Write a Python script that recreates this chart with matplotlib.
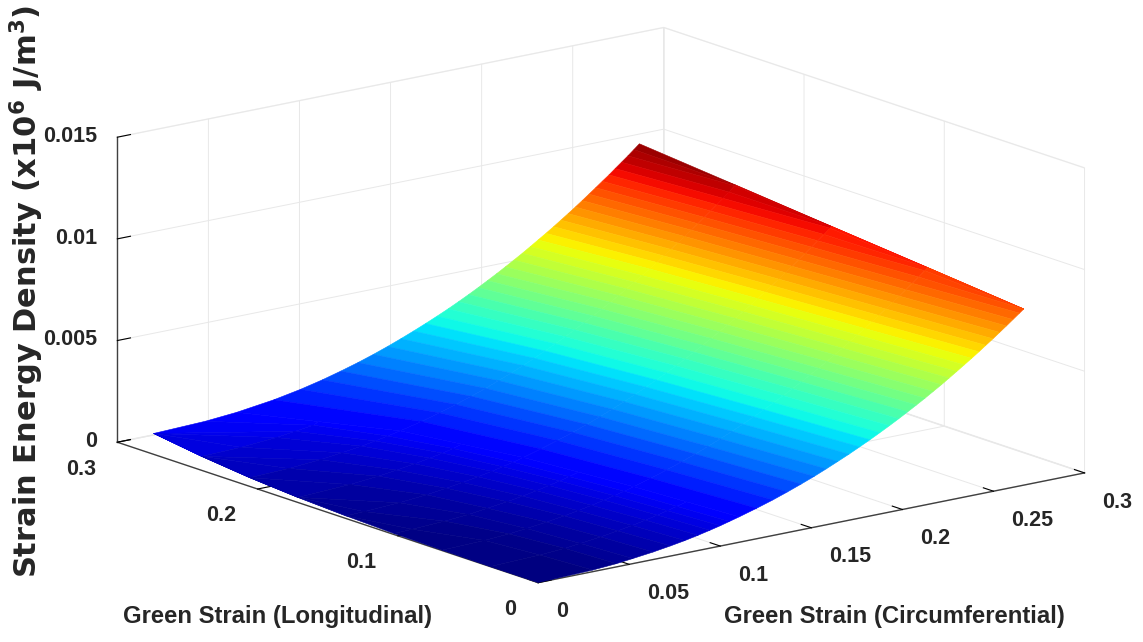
import numpy as np
import matplotlib
matplotlib.use('Agg')
import matplotlib.pyplot as plt

# energy levels drawn as colour bands (x10^6 J/m^3), upper part of the sheet
levels = [.00125, .00150, .00175, .00200, .00225, .00250,
          .00275, .00300, .00325, .00350, .00375, .00400, .00425, .00450, .00475, .00500, .00525,
          .00550, .00575, .00600, .00625, .00650, .00675, .00700, .00725, .00750, .00775, .00800,
          .00825, .00850, .00875, .00900, .00925, .00950, .00975, .01000, .01025, .01048]
long_strain = [0, .0685, .137, .2055, .274]

# circumferential strain where each level sits, one column per long_strain
circ_at_level = [
    [.1104, .1052, .0974, .0825, .0455],
    [.1200, .1146, .1070, .0942, .0660],
    [.1289, .1233, .1161, .1041, .0806],
    [.1369, .1315, .1245, .1131, .0925],
    [.1444, .1391, .1323, .1216, .1027],
    [.1516, .1461, .1394, .1294, .1121],
    [.1582, .1528, .1462, .1366, .1206],
    [.1645, .1592, .1527, .1434, .1284],
    [.1707, .1652, .1588, .1500, .1357],
    [.1765, .1711, .1647, .1561, .1426],
    [.1822, .1767, .1704, .1620, .1492],
    [.1876, .1821, .1759, .1677, .1555],
    [.1929, .1873, .1812, .1731, .1616],
    [.1980, .1924, .1862, .1783, .1673],
    [.2029, .1973, .1911, .1834, .1728],
    [.2077, .2020, .1958, .1884, .1781],
    [.2124, .2067, .2005, .1932, .1832],
    [.2169, .2112, .2050, .1979, .1882],
    [.2214, .2155, .2095, .2024, .1930],
    [.2256, .2198, .2137, .2067, .1977],
    [.2298, .2239, .2180, .2110, .2023],
    [.2339, .2280, .2221, .2153, .2067],
    [.2380, .2320, .2260, .2195, .2110],
    [.2420, .2359, .2300, .2234, .2153],
    [.2458, .2398, .2338, .2273, .2195],
    [.2497, .2436, .2376, .2312, .2235],
    [.2534, .2473, .2413, .2349, .2275],
    [.2571, .2510, .2449, .2387, .2314],
    [.2607, .2546, .2486, .2423, .2352],
    [.2643, .2581, .2521, .2459, .2389],
    [.2666, .2616, .2556, .2494, .2426],
    [.2666, .2650, .2590, .2529, .2462],
    [.2666, .2666, .2624, .2563, .2499],
    [.2666, .2666, .2657, .2597, .2533],
    [.2666, .2666, .2666, .2630, .2568],
    [.2666, .2666, .2666, .2662, .2603],
    [.2666, .2666, .2666, .2666, .2636],
    [.2666, .2666, .2666, .2666, .2666],
]
# energy along the far edge of the sheet, per long_strain
energy_high_edge = [.00866, .00912, .00957, .01003, .01048]

# lower part of the sheet, read on a finer long_strain spacing
low_levels = [0, .00008, .00016, .00025, .00037, .00050, .00062, .00075, .00088, .00100, .00112, .00125]
low_long_strain = [0, .03425, .0685, .10275, .137, .17125, .2055, .23975, .274]
low_circ_at_level = [
    [0, 0, 0, 0, 0, 0, 0, 0, 0],
    [.0300, .0273, .0233, .0100, 0, 0, 0, 0, 0],
    [.0430, .0410, .0367, .0277, .0100, 0, 0, 0, 0],
    [.0520, .0495, .0464, .0409, .0292, 0, 0, 0, 0],
    [.0631, .0607, .0573, .0513, .0442, .0286, 0, 0, 0],
    [.0727, .0700, .0671, .0621, .0550, .0442, .0214, 0, 0],
    [.0806, .0780, .0747, .0706, .0640, .0542, .0386, 0, 0],
    [.0878, .0853, .0821, .0782, .0724, .0640, .0504, .0215, 0],
    [.0943, .0918, .0889, .0850, .0800, .0724, .0613, .0409, 0],
    [.1000, .0973, .0945, .0909, .0860, .0794, .0688, .0513, 0],
    [.1050, .1025, .1000, .0961, .0917, .0852, .0756, .0613, .0283],
    [.1104, .1078, .1052, .1013, .0974, .0900, .0825, .0640, .0455],
]
energy_low_edge = [0, 0, .00002, .00005, .00013, .00025, .00043, .00069, .00103]

x_ticks = [0, .05, .1, .15, .2, .25, .3]
x_labels = ['0', '0.05', '0.1', '0.15', '0.2', '0.25', '0.3']
y_ticks = [0, .1, .2, .3]
y_labels = ['0', '0.1', '0.2', '0.3']
z_ticks = [0, .005, .01, .015]
z_labels = ['0', '0.005', '0.01', '0.015']

txt = '#262626'
plt.rcParams['mathtext.fontset'] = 'custom'
plt.rcParams['mathtext.bf'] = 'DejaVu Sans:bold'
plt.rcParams['mathtext.rm'] = 'DejaVu Sans:bold'

W, H = 1143, 642
fig = plt.figure(figsize=(W / 100, H / 100), dpi=100)
ax = fig.add_axes([14 / W, -250 / H, 1, W / H], projection='3d')
ax.set_proj_type('ortho')
ax.view_init(elev=15, azim=-127.8)
ax.set_box_aspect((692, 687, 316), zoom=0.87)

X = np.array(circ_at_level)
Y = np.tile(long_strain, (len(levels), 1))
Z = np.minimum(np.array(levels)[:, None], energy_high_edge)
X2 = np.array(low_circ_at_level)
Y2 = np.tile(low_long_strain, (len(low_levels), 1))
Z2 = np.maximum(np.array(low_levels)[:, None], energy_low_edge)
for xs, ys, zs in ((X2, Y2, Z2), (X, Y, Z)):
    surf = ax.plot_surface(xs, ys, zs, rstride=1, cstride=1, cmap='jet', vmin=0, vmax=levels[-1],
                           linewidth=0, antialiased=True)
    surf.set_edgecolor('face')
    surf.set_linewidth(0.4)

ax.set_xlim(0, .3, view_margin=0)
ax.set_ylim(0, .3, view_margin=0)
ax.set_zlim(0, .015, view_margin=0)
font = dict(family='Liberation Sans', fontsize=15.5, fontweight='bold', color=txt)
ax.set_xticks(x_ticks)
ax.set_xticklabels(x_labels, ha='left', **font)
ax.set_yticks(y_ticks)
ax.set_yticklabels(y_labels, ha='right', **font)
ax.set_zticks(z_ticks)
ax.set_zticklabels(z_labels, ha='right', va='center', **font)

for axis in (ax.xaxis, ax.yaxis, ax.zaxis):
    axis.pane.set_facecolor('white')
    axis.pane.set_edgecolor('#e6e6e6')
    axis.line.set_color('#404040')
    axis.line.set_linewidth(1.0)
    axis._axinfo['grid'].update(color='#e8e8e8', linewidth=0.7)
    axis._axinfo['tick'].update(inward_factor=0.0, outward_factor=0.3)
    axis._axinfo['tick']['color'] = '#404040'
ax.tick_params(axis='x', pad=10)
ax.tick_params(axis='y', pad=9)
ax.tick_params(axis='z', pad=1)

fig.text(278 / W, 1 - 617 / H, 'Green Strain (Longitudinal)', family='Liberation Sans',
         fontweight='bold', fontsize=17.2, color=txt, ha='center', va='center')
fig.text(894 / W, 1 - 617 / H, 'Green Strain (Circumferential)', family='Liberation Sans',
         fontweight='bold', fontsize=17.2, color=txt, ha='center', va='center')
fig.text(27 / W, 1 - 291 / H, r'Strain Energy Density (x10$^{\mathbf{6}}$ J/m$^{\mathbf{3}}$)',
         family='DejaVu Sans', fontweight='bold', fontsize=22, color=txt,
         rotation=90, ha='center', va='center')

fig.savefig('out.png', dpi=100)
